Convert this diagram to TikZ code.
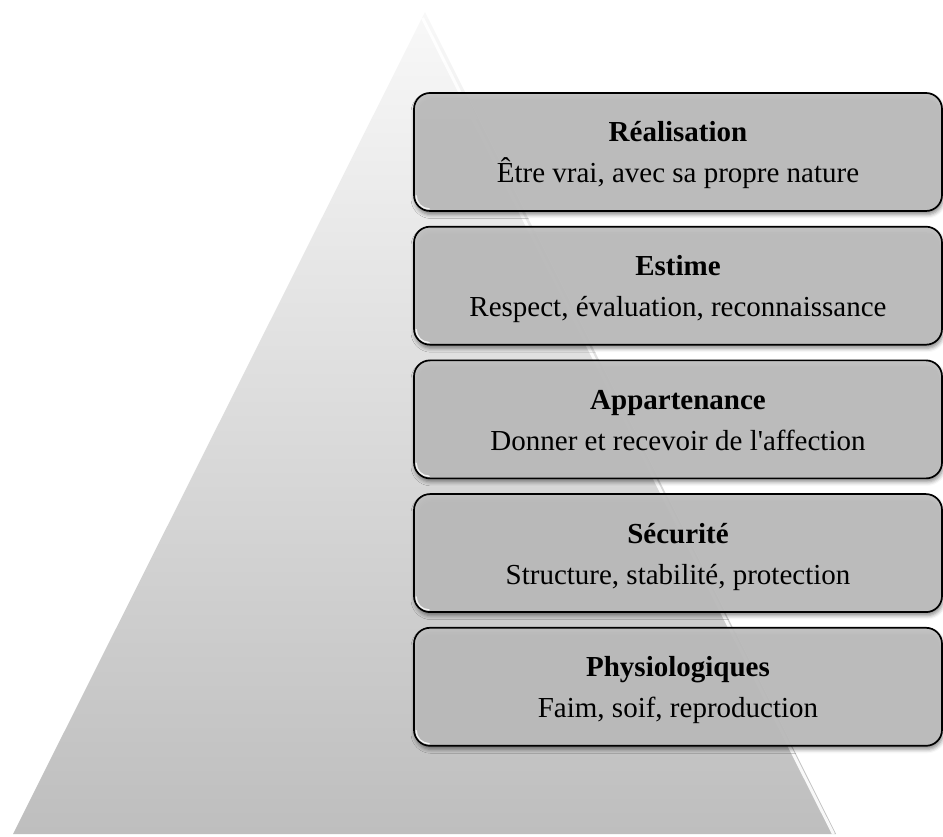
\documentclass[tikz,border=0pt]{standalone}
\usepackage{fontspec}
\setmainfont{Liberation Serif}
\usepackage{xcolor}
\usetikzlibrary{positioning,shadows.blur}

\definecolor{boxgray}{HTML}{C0C0C0}
\definecolor{pyrtop}{HTML}{F8F8F8}
\definecolor{pyrbot}{HTML}{BEBEBE}

\begin{document}
\begin{tikzpicture}[x=1pt, y=1pt, node distance=14pt,
  level/.style={draw, line width=1.7pt, rounded corners=16pt, fill=boxgray, fill opacity=0.92,
    minimum width=528pt, minimum height=118pt, inner sep=0pt,
    blur shadow={shadow xshift=1pt, shadow yshift=-3.5pt, shadow blur radius=4pt, shadow opacity=50}},
  title/.style={anchor=base, font=\fontsize{29}{35}\selectfont\bfseries},
  sub/.style={anchor=base, font=\fontsize{29}{35}\selectfont}]
\useasboundingbox (0,0) rectangle (943,836);

% pyramid
\coordinate (Top) at (425,824);
\coordinate (BaseL) at (13,2);
\coordinate (BaseR) at (836,2);
\shade[top color=pyrtop, bottom color=pyrbot] (Top) -- (BaseR) -- (BaseL) -- cycle;
\draw[white, line width=3pt, opacity=0.9] ([xshift=-2.5pt, yshift=-6pt]Top) -- ([xshift=-2.5pt]BaseR);

% levels
\node[level] (Real) at (678,684) {};
\node[level, below=of Real] (Estime) {};
\node[level, below=of Estime] (Appart) {};
\node[level, below=of Appart] (Secu) {};
\node[level, below=of Secu] (Physio) {};

\foreach \n in {Real,Estime,Appart,Secu,Physio}
  \draw[white, line width=1.4pt, opacity=0.8, line cap=round] ([shift={(3,16)}]\n.south west) arc[start angle=180, end angle=270, radius=13];

\node[title] at ([yshift=10pt]Real.center) {Réalisation};
\node[sub] at ([yshift=-31pt]Real.center) {Être vrai, avec sa propre nature};
\node[title] at ([yshift=10pt]Estime.center) {Estime};
\node[sub] at ([yshift=-31pt]Estime.center) {Respect, évaluation, reconnaissance};
\node[title] at ([yshift=10pt]Appart.center) {Appartenance};
\node[sub] at ([yshift=-31pt]Appart.center) {Donner et recevoir de l\textquotesingle affection};
\node[title] at ([yshift=10pt]Secu.center) {Sécurité};
\node[sub] at ([yshift=-31pt]Secu.center) {Structure, stabilité, protection};
\node[title] at ([yshift=10pt]Physio.center) {Physiologiques};
\node[sub] at ([yshift=-31pt]Physio.center) {Faim, soif, reproduction};
\end{tikzpicture}
\end{document}
